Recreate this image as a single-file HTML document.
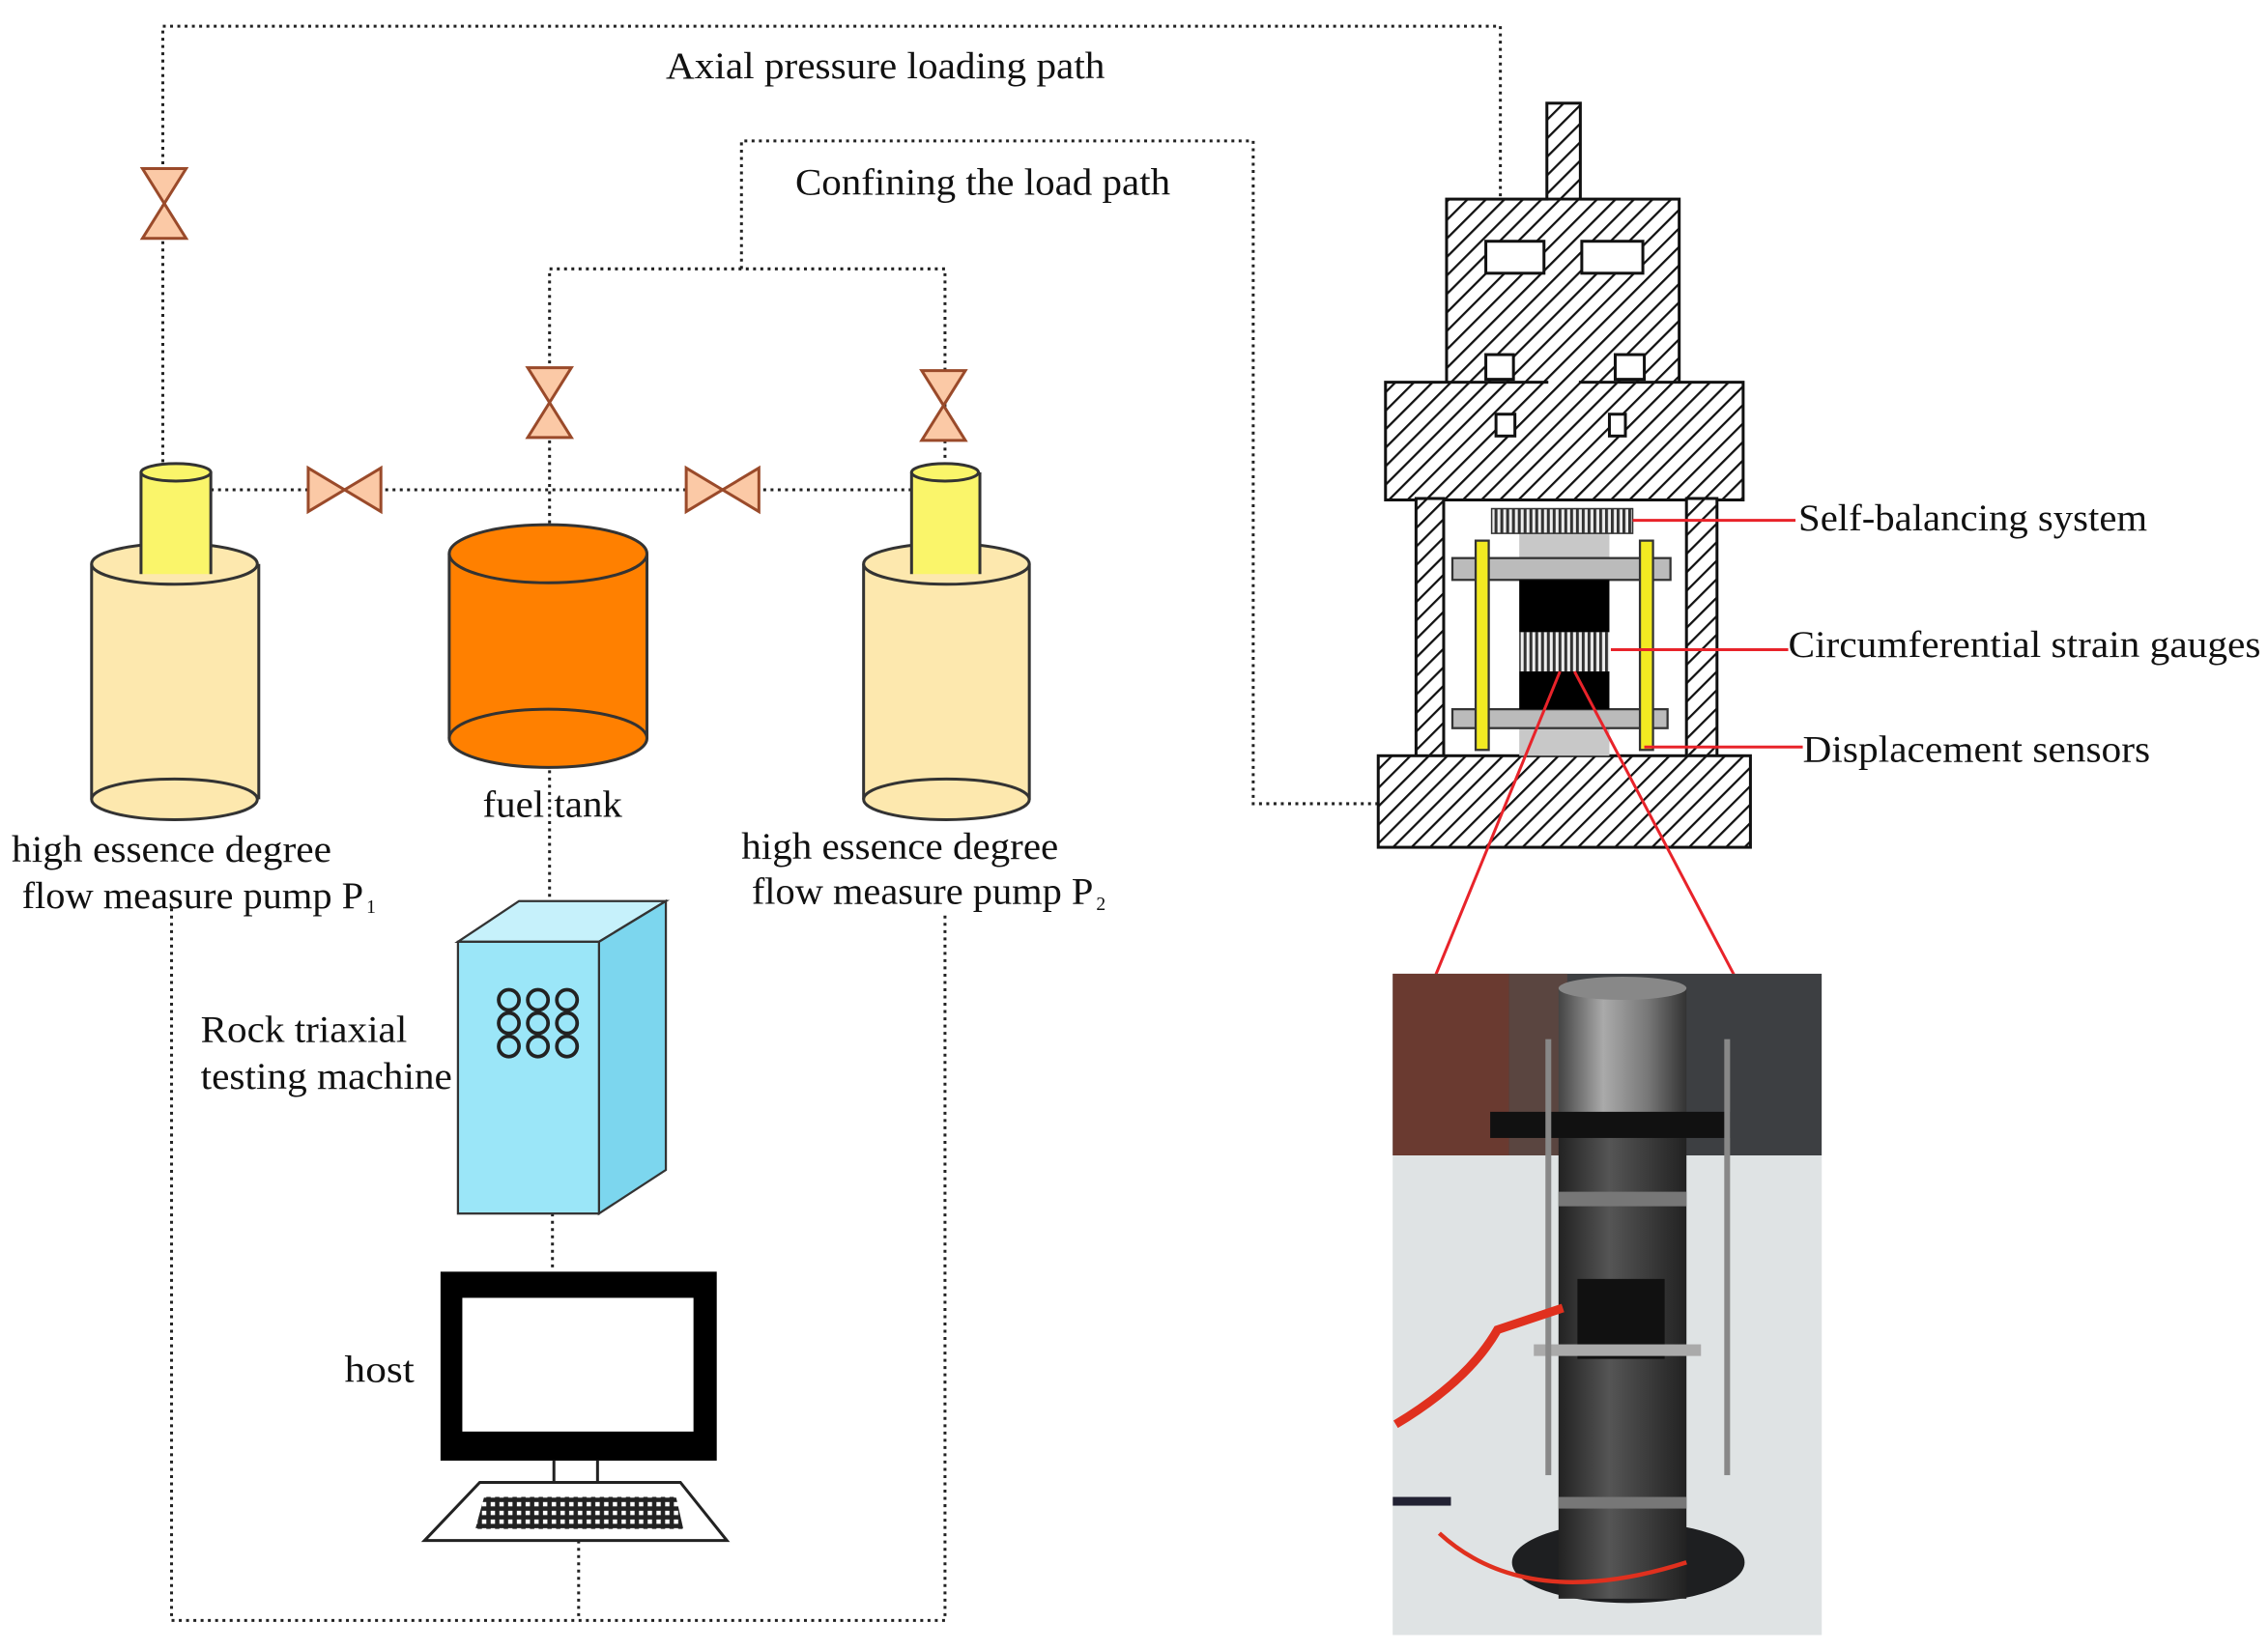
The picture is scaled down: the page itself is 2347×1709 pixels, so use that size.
<!DOCTYPE html>
<html><head><meta charset="utf-8"><style>html,body{margin:0;padding:0;background:#fff}svg{display:block}</style></head>
<body>
<svg width="2347" height="1709" viewBox="0 0 1560 1136" preserveAspectRatio="none" xmlns="http://www.w3.org/2000/svg" font-family="Liberation Serif, serif" font-size="26" fill="#111">
<defs>
<pattern id="h" width="9" height="9" patternUnits="userSpaceOnUse" patternTransform="rotate(45)">
<rect width="9" height="9" fill="#fff"/><line x1="0" y1="0" x2="0" y2="9" stroke="#111" stroke-width="3"/></pattern>
<pattern id="g" width="4" height="4" patternUnits="userSpaceOnUse"><rect width="4" height="4" fill="#eee"/><rect width="2" height="4" fill="#333"/></pattern>
<pattern id="kb" width="6" height="6" patternUnits="userSpaceOnUse"><rect width="6" height="6" fill="#222"/><rect x="1.5" y="1.5" width="3" height="3" fill="#fff"/></pattern>
<linearGradient id="cyl" x1="0" x2="1"><stop offset="0" stop-color="#444"/><stop offset=".35" stop-color="#aaa"/><stop offset=".7" stop-color="#777"/><stop offset="1" stop-color="#333"/></linearGradient>
<linearGradient id="cyl2" x1="0" x2="1"><stop offset="0" stop-color="#222"/><stop offset=".4" stop-color="#555"/><stop offset="1" stop-color="#222"/></linearGradient>
</defs>
<g stroke="#222" stroke-width="2" stroke-dasharray="2 3" fill="none">
<polyline points="112,318 112,18 1032,18 1032,190"/>
<polyline points="948,553 862,553 862,97 510,97 510,185"/>
<polyline points="378,360 378,185 650,185 650,318"/>
<line x1="145" y1="337" x2="630" y2="337"/>
<line x1="378" y1="530" x2="378" y2="648"/>
<line x1="380" y1="835" x2="380" y2="875"/>
<polyline points="118,625 118,1115 650,1115 650,628"/>
<line x1="398" y1="1060" x2="398" y2="1115"/>
</g>
<g fill="#FBC9A6" stroke="#9a4a2a" stroke-width="2">
<polygon points="98,116 128,116 113,140"/><polygon points="98,164 128,164 113,140"/>
<polygon points="363,253 393,253 378,277"/><polygon points="363,301 393,301 378,277"/>
<polygon points="634,255 664,255 649,279"/><polygon points="634,303 664,303 649,279"/>
<polygon points="212,322 212,352 237,337"/><polygon points="262,322 262,352 237,337"/>
<polygon points="472,322 472,352 497,337"/><polygon points="522,322 522,352 497,337"/>
</g>
<g stroke="#333" stroke-width="2">
<rect x="63" y="388" width="115" height="162" fill="#FDE8AE" stroke="none"/>
<ellipse cx="120" cy="550" rx="57" ry="14" fill="#FDE8AE"/>
<line x1="63" y1="388" x2="63" y2="550"/><line x1="178" y1="388" x2="178" y2="550"/>
<ellipse cx="120" cy="388" rx="57" ry="14" fill="#FDE8AE"/>
<rect x="97" y="325" width="48" height="70" fill="#FAF56A" stroke="none"/>
<line x1="97" y1="325" x2="97" y2="395"/><line x1="145" y1="325" x2="145" y2="395"/>
<ellipse cx="121" cy="325" rx="24" ry="6" fill="#FAF56A"/>
<rect x="594" y="388" width="114" height="162" fill="#FDE8AE" stroke="none"/>
<ellipse cx="651" cy="550" rx="57" ry="14" fill="#FDE8AE"/>
<line x1="594" y1="388" x2="594" y2="550"/><line x1="708" y1="388" x2="708" y2="550"/>
<ellipse cx="651" cy="388" rx="57" ry="14" fill="#FDE8AE"/>
<rect x="627" y="325" width="47" height="70" fill="#FAF56A" stroke="none"/>
<line x1="627" y1="325" x2="627" y2="395"/><line x1="674" y1="325" x2="674" y2="395"/>
<ellipse cx="650" cy="325" rx="23" ry="6" fill="#FAF56A"/>
<rect x="309" y="381" width="136" height="127" fill="#FF8000" stroke="none"/>
<ellipse cx="377" cy="508" rx="68" ry="20" fill="#FF8000"/>
<line x1="309" y1="381" x2="309" y2="508"/><line x1="445" y1="381" x2="445" y2="508"/>
<ellipse cx="377" cy="381" rx="68" ry="20" fill="#FF8000"/>
</g>
<g lengthAdjust="spacingAndGlyphs">
<text x="458" y="54" textLength="302" lengthAdjust="spacingAndGlyphs">Axial pressure loading path</text>
<text x="547" y="134" textLength="258" lengthAdjust="spacingAndGlyphs">Confining the load path</text>
<text x="332" y="562" textLength="96" lengthAdjust="spacingAndGlyphs">fuel tank</text>
<text x="8" y="593" textLength="220" lengthAdjust="spacingAndGlyphs">high essence degree</text>
<text x="15" y="625" textLength="235" lengthAdjust="spacingAndGlyphs">flow measure pump P</text><text x="252" y="628" font-size="13">1</text>
<text x="510" y="591" textLength="218" lengthAdjust="spacingAndGlyphs">high essence degree</text>
<text x="517" y="622" textLength="235" lengthAdjust="spacingAndGlyphs">flow measure pump P</text><text x="754" y="626" font-size="13">2</text>
<text x="138" y="717" textLength="142" lengthAdjust="spacingAndGlyphs">Rock triaxial</text>
<text x="138" y="749" textLength="173" lengthAdjust="spacingAndGlyphs">testing machine</text>
<text x="237" y="951" textLength="48" lengthAdjust="spacingAndGlyphs">host</text>
<text x="1237" y="365" textLength="240" lengthAdjust="spacingAndGlyphs">Self-balancing system</text>
<text x="1230" y="452" textLength="325" lengthAdjust="spacingAndGlyphs">Circumferential strain gauges</text>
<text x="1240" y="524" textLength="239" lengthAdjust="spacingAndGlyphs">Displacement sensors</text>
</g>
<!-- testing machine -->
<g stroke="#333" stroke-width="1.5">
<polygon points="315,648 357,620 458,620 412,648" fill="#C6F1FB"/>
<polygon points="412,648 458,620 458,805 412,835" fill="#7CD6EE"/>
<rect x="315" y="648" width="97" height="187" fill="#9BE6F8"/>
</g>
<g fill="none" stroke="#222" stroke-width="2.5">
<circle cx="350" cy="688" r="7"/><circle cx="370" cy="688" r="7"/><circle cx="390" cy="688" r="7"/>
<circle cx="350" cy="704" r="7"/><circle cx="370" cy="704" r="7"/><circle cx="390" cy="704" r="7"/>
<circle cx="350" cy="720" r="7"/><circle cx="370" cy="720" r="7"/><circle cx="390" cy="720" r="7"/>
</g>
<!-- host -->
<rect x="303" y="875" width="190" height="130" fill="#000"/>
<rect x="318" y="893" width="159" height="92" fill="#fff"/>
<line x1="381" y1="1005" x2="381" y2="1022" stroke="#222" stroke-width="2"/>
<line x1="411" y1="1005" x2="411" y2="1022" stroke="#222" stroke-width="2"/>
<polygon points="330,1020 468,1020 500,1060 292,1060" fill="#fff" stroke="#222" stroke-width="2"/>
<polygon points="333,1030 465,1030 470,1052 327,1052" fill="url(#kb)"/>
<!-- press -->
<g stroke="#111" stroke-width="2" fill="url(#h)">
<rect x="1064" y="71" width="23" height="80"/>
<rect x="995" y="137" width="160" height="130"/>
<rect x="953" y="263" width="246" height="81"/>
<rect x="974" y="343" width="19" height="178"/>
<rect x="1160" y="343" width="21" height="178"/>
<rect x="948" y="520" width="256" height="63"/>
</g>
<rect x="1065" y="138" width="21" height="128" fill="url(#h)"/>
<g fill="#fff" stroke="#111" stroke-width="2">
<rect x="1022" y="166" width="40" height="22"/><rect x="1088" y="166" width="42" height="22"/>
<rect x="1022" y="244" width="19" height="17"/><rect x="1111" y="244" width="20" height="17"/>
<rect x="1029" y="285" width="13" height="15"/><rect x="1107" y="285" width="11" height="15"/>
</g>
<rect x="1045" y="367" width="62" height="153" fill="#c8c8c8"/>
<rect x="1026" y="350" width="97" height="17" fill="url(#g)" stroke="#333" stroke-width="1"/>
<rect x="999" y="384" width="150" height="15" fill="#bbb" stroke="#333" stroke-width="1.5"/>
<rect x="999" y="488" width="148" height="13" fill="#bbb" stroke="#333" stroke-width="1.5"/>
<rect x="1045" y="399" width="62" height="36" fill="#000"/>
<rect x="1045" y="435" width="62" height="27" fill="url(#g)"/>
<rect x="1045" y="462" width="62" height="26" fill="#000"/>
<rect x="1015" y="372" width="9" height="144" fill="#F2EA22" stroke="#333" stroke-width="1.5"/>
<rect x="1128" y="372" width="9" height="144" fill="#F2EA22" stroke="#333" stroke-width="1.5"/>
<g stroke="#E8232A" stroke-width="2">
<line x1="1123" y1="358" x2="1235" y2="358"/>
<line x1="1108" y1="447" x2="1230" y2="447"/>
<line x1="1131" y1="514" x2="1240" y2="514"/>
<line x1="1073" y1="462" x2="985" y2="677"/>
<line x1="1083" y1="462" x2="1196" y2="677"/>
</g>
<!-- photo -->
<rect x="958" y="670" width="295" height="455" fill="#e4e6e6"/>
<rect x="958" y="670" width="295" height="125" fill="#3d3f42"/>
<rect x="958" y="670" width="80" height="125" fill="#6a3a30"/>
<rect x="1038" y="670" width="40" height="125" fill="#5a4540"/>
<rect x="958" y="795" width="295" height="330" fill="#dfe3e4"/>
<ellipse cx="1120" cy="1075" rx="80" ry="28" fill="#1e1f21"/>
<rect x="1072" y="780" width="88" height="320" fill="url(#cyl2)"/>
<rect x="1072" y="680" width="88" height="100" fill="url(#cyl)"/>
<ellipse cx="1116" cy="680" rx="44" ry="8" fill="#888"/>
<rect x="1072" y="820" width="88" height="10" fill="#777"/>
<rect x="1072" y="1030" width="88" height="8" fill="#777"/>
<rect x="1025" y="765" width="165" height="18" fill="#111"/>
<rect x="1085" y="880" width="60" height="55" fill="#111"/>
<rect x="1055" y="925" width="115" height="8" fill="#aaa"/>
<rect x="1063" y="715" width="4" height="300" fill="#888"/>
<rect x="1186" y="715" width="4" height="300" fill="#888"/>
<path d="M960 980 Q1010 950 1030 915 L1075 900" stroke="#E0301E" stroke-width="6" fill="none"/>
<path d="M990 1055 Q1050 1110 1160 1075" stroke="#E0301E" stroke-width="3" fill="none"/>
<rect x="958" y="1030" width="40" height="6" fill="#223"/>
</svg>
</body></html>
